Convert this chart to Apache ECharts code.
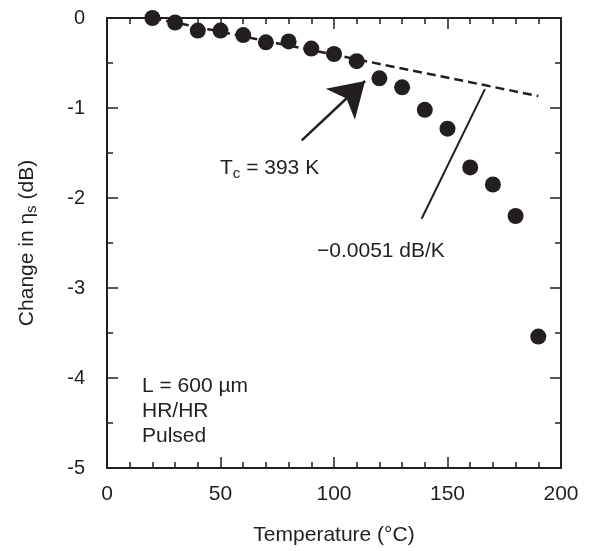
<!DOCTYPE html>
<html><head><meta charset="utf-8">
<script src="https://cdn.jsdelivr.net/npm/echarts@6/dist/echarts.min.js"></script>
<style>html,body{margin:0;padding:0;background:#fff}#c{width:590px;height:551px}</style>
</head><body><div id="c"></div>
<script>
const temps = [20, 30, 40, 50, 60, 70, 80, 90, 100, 110, 120, 130, 140, 150, 160, 170, 180, 190];
const change = [0.0, -0.05, -0.14, -0.14, -0.19, -0.27, -0.26, -0.34, -0.40, -0.48, -0.67, -0.77, -1.02, -1.23, -1.66, -1.85, -2.20, -3.54];
const fitLine = [[20, 0], [190, -0.867]];
const tcArrow = [[85.8, -1.36], [113.7, -0.70]];
const slopePointer = [[138.6, -2.23], [166.5, -0.79]];
const xTicks = [0, 50, 100, 150, 200];
const yTicks = [0, -1, -2, -3, -4, -5];

const FONT = '"Liberation Sans", Arial, Helvetica, sans-serif';
const INK = '#231f20';
const FS = 21;
const chart = echarts.init(document.getElementById('c'), null, {renderer: 'canvas'});

const axisCommon = {
  axisLine: {show: true, onZero: false, lineStyle: {color: INK, width: 2}},
  axisTick: {show: true, inside: true, length: 11, lineStyle: {color: INK, width: 1.5}},
  minorTick: {show: true, length: 6, lineStyle: {color: INK, width: 1.5}},
  splitLine: {show: false},
  minorSplitLine: {show: false}
};

chart.setOption({
  backgroundColor: '#fff',
  animation: false,
  textStyle: {fontFamily: FONT},
  grid: {left: 107, right: 29, top: 18, bottom: 79, containLabel: false},
  xAxis: [
    Object.assign({}, axisCommon, {
      type: 'value', position: 'bottom', min: xTicks[0], max: xTicks[xTicks.length - 1], interval: 50,
      minorTick: Object.assign({}, axisCommon.minorTick, {splitNumber: 5}),
      axisLabel: {color: INK, fontSize: FS, fontFamily: FONT, margin: 16},
      name: 'Temperature (°C)', nameLocation: 'middle', nameGap: 57,
      nameTextStyle: {color: INK, fontSize: FS, fontFamily: FONT}
    }),
    Object.assign({}, axisCommon, {
      type: 'value', position: 'top', min: 0, max: 200, interval: 50,
      minorTick: Object.assign({}, axisCommon.minorTick, {splitNumber: 5}),
      axisLabel: {show: false}
    })
  ],
  yAxis: [
    Object.assign({}, axisCommon, {
      type: 'value', position: 'left', min: yTicks[yTicks.length - 1], max: yTicks[0], interval: 1,
      minorTick: Object.assign({}, axisCommon.minorTick, {splitNumber: 2}),
      axisLabel: {color: INK, fontSize: 20, fontFamily: FONT, margin: 22},
      name: 'Change in η{sub|s} (dB)', nameLocation: 'middle', nameGap: 68, nameRotate: 90,
      nameTextStyle: {color: INK, fontSize: FS, fontFamily: FONT,
        rich: {sub: {fontSize: 15, fontFamily: FONT, color: INK, padding: [9, 0, 0, 0]}}}
    }),
    Object.assign({}, axisCommon, {
      type: 'value', position: 'right', min: -5, max: 0, interval: 1,
      minorTick: Object.assign({}, axisCommon.minorTick, {splitNumber: 2}),
      axisLabel: {show: false}
    })
  ],
  series: [
    {
      type: 'line', data: fitLine, symbol: 'none', z: 1,
      lineStyle: {color: INK, width: 2.5, type: [9, 5]}
    },
    {
      type: 'scatter', data: temps.map((t, i) => [t, change[i]]),
      symbol: 'circle', symbolSize: 16, z: 3,
      itemStyle: {color: INK, opacity: 1}
    },
    {
      type: 'line', data: slopePointer, symbol: 'none', z: 2,
      lineStyle: {color: INK, width: 2}
    },
    {
      type: 'line', data: [], z: 2,
      markLine: {
        silent: true, animation: false,
        symbol: ['none', 'arrow'], symbolSize: [32, 34],
        label: {show: false},
        lineStyle: {color: INK, width: 2.5, type: 'solid', opacity: 1},
        data: [[{coord: tcArrow[0]}, {coord: tcArrow[1]}]]
      }
    }
  ],
  graphic: [
    {type: 'text', left: 220, top: 158, style: {
      text: '{a|T}{b|c}{a| = 393 K}', fill: INK,
      rich: {a: {fontSize: FS, fontFamily: FONT, fill: INK}, b: {fontSize: 15, fontFamily: FONT, fill: INK, padding: [11, 0, 0, 0]}}
    }},
    {type: 'text', left: 317, top: 241, style: {text: '\u22120.0051 dB/K', font: FS + 'px ' + FONT, fill: INK}},
    {type: 'text', left: 142, top: 374, style: {text: 'L = 600 \u00b5m\nHR/HR\nPulsed', font: FS + 'px ' + FONT, fill: INK, lineHeight: 25}}
  ]
});
</script></body></html>
